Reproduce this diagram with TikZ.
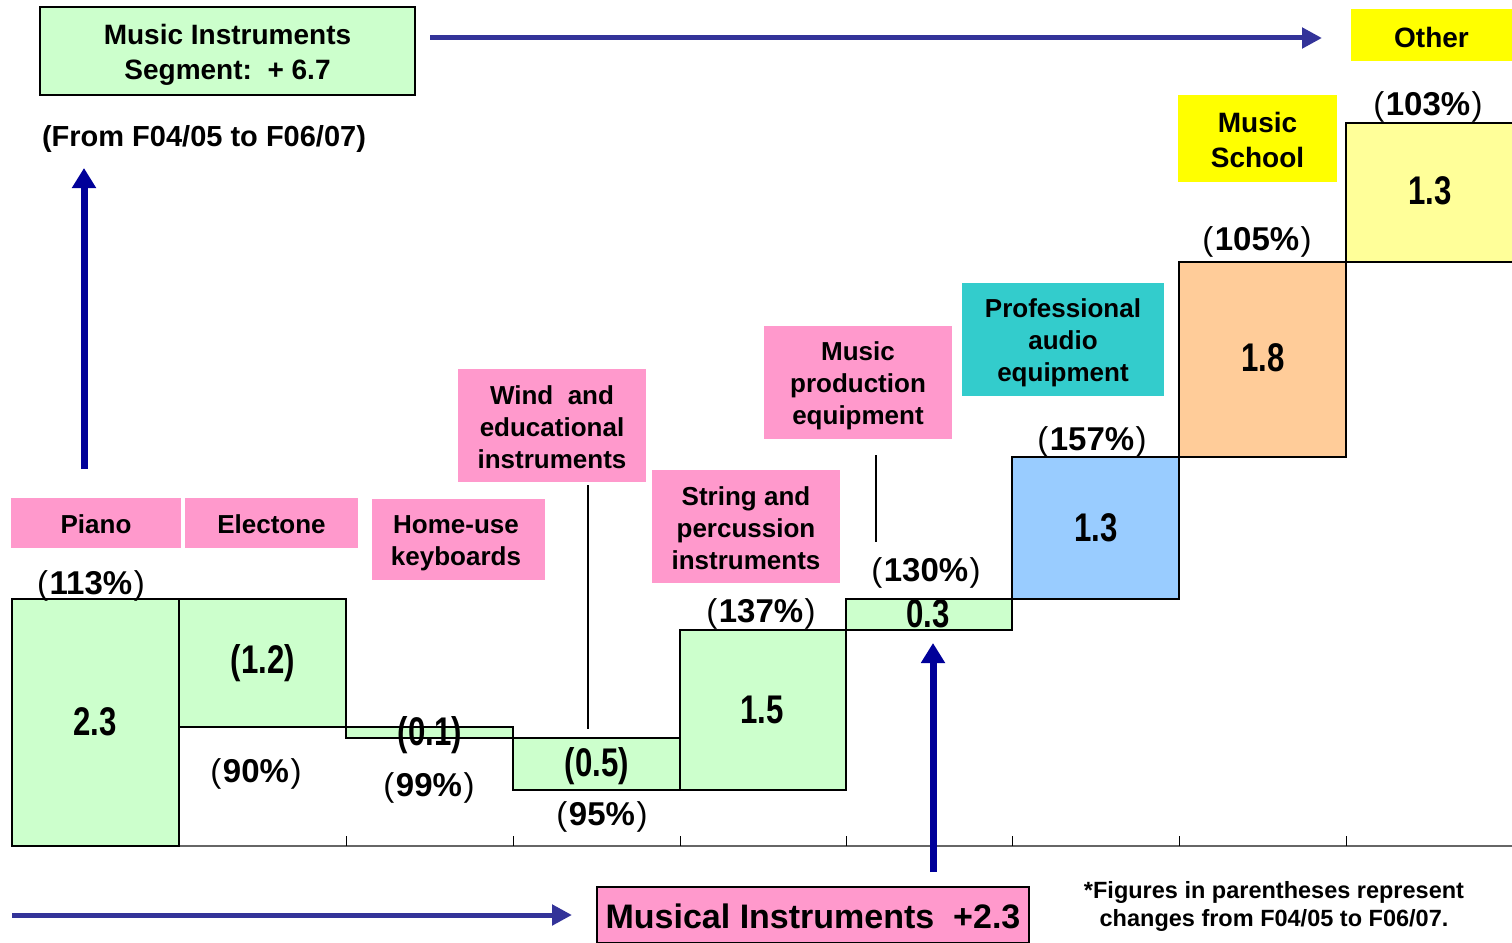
\documentclass[tikz,border=0pt]{standalone}
\usepackage{fontspec}
\setmainfont{Liberation Sans}
\newfontfamily\narrowfont[FakeStretch=0.78]{Liberation Sans}
\usetikzlibrary{arrows.meta}

\definecolor{bargreen}{HTML}{CCFFCC}
\definecolor{barblue}{HTML}{99CCFF}
\definecolor{barorange}{HTML}{FFCC99}
\definecolor{barlight}{HTML}{FFFF99}
\definecolor{tagpink}{HTML}{FF99CC}
\definecolor{tagteal}{HTML}{33CCCC}
\definecolor{tagyellow}{HTML}{FFFF00}
\definecolor{flowblue}{HTML}{333399}
\definecolor{upblue}{HTML}{000099}

\tikzset{
  bar/.style={draw=black, line width=2pt},
  tagbox/.style={fill=tagpink, inner sep=0pt},
  tagtext/.style={inner sep=0pt, align=center,
    font=\fontsize{26}{32}\selectfont\bfseries},
  bigtext/.style={inner sep=0pt, align=center,
    font=\fontsize{28}{35}\selectfont\bfseries},
  value/.style={font=\fontsize{40}{44}\selectfont\narrowfont\bfseries, inner sep=0pt},
  pct/.style={font=\fontsize{33}{36}\selectfont\bfseries, inner sep=0pt},
  leader/.style={draw=black, line width=2pt},
  flow/.style={draw=flowblue, line width=5pt, -{Triangle[length=20pt,width=20pt]}},
  rise/.style={draw=upblue, line width=7pt, -{Triangle[length=20pt,width=23pt]}}
}
\newcommand{\pc}[1]{{\mdseries(}\kern1.5pt#1\kern1.5pt{\mdseries)}}

\begin{document}
\begin{tikzpicture}[x=1pt, y=-1pt]
\useasboundingbox (0,0) rectangle (1512,942);

% axis and ticks
\draw[gray!80!black, line width=2pt] (12,846) -- (1512,846);
\foreach \t in {346,513,680,846,1012,1179,1346}
  \draw[black, line width=1pt] (\t,836) -- (\t,846);

% waterfall bars
\filldraw[bar, fill=bargreen]  (12,599)   rectangle (179,846);
\filldraw[bar, fill=bargreen]  (179,599)  rectangle (346,727);
\filldraw[bar, fill=bargreen]  (346,727)  rectangle (513,738);
\filldraw[bar, fill=bargreen]  (513,738)  rectangle (680,790);
\filldraw[bar, fill=bargreen]  (680,630)  rectangle (846,790);
\filldraw[bar, fill=bargreen]  (846,599)  rectangle (1012,630);
\filldraw[bar, fill=barblue]   (1012,457) rectangle (1179,599);
\filldraw[bar, fill=barorange] (1179,262) rectangle (1346,457);
\filldraw[bar, fill=barlight]  (1346,123) rectangle (1516,262);

% values inside the bars
\node[value] (v1) at (95,722)   {2.3};
\node[value] (v2) at (263,663)  {(1.2)};
\node[value] (v3) at (430,735)  {(0.1)};
\node[value] (v4) at (597,766)  {(0.5)};
\node[value] (v5) at (762,710)  {1.5};
\node[value] (v6) at (928,614)  {0.3};
\node[value] (v7) at (1096,528) {1.3};
\node[value] (v8) at (1263,358) {1.8};
\node[value] (v9) at (1430,191) {1.3};

% year-on-year ratios
\node[pct] (p1) at (91,586)   {\pc{113\%}};
\node[pct] (p2) at (256,774)  {\pc{90\%}};
\node[pct] (p3) at (429,788)  {\pc{99\%}};
\node[pct] (p4) at (602,817)  {\pc{95\%}};
\node[pct] (p5) at (761,614)  {\pc{137\%}};
\node[pct] (p6) at (926,573)  {\pc{130\%}};
\node[pct] (p7) at (1092,442) {\pc{157\%}};
\node[pct] (p8) at (1257,242) {\pc{105\%}};
\node[pct] (p9) at (1428,107) {\pc{103\%}};

% category tags: coloured boxes
\node[tagbox, minimum width=170pt, minimum height=50pt] (piano) at (96,523) {};
\node[tagbox, minimum width=173pt, minimum height=50pt] (electone) at (271.5,523) {};
\node[tagbox, minimum width=173pt, minimum height=81pt] (home) at (458.5,539.5) {};
\node[tagbox, minimum width=188pt, minimum height=113pt] (wind) at (552,425.5) {};
\node[tagbox, minimum width=188pt, minimum height=113pt] (string) at (746,526.5) {};
\node[tagbox, minimum width=188pt, minimum height=113pt] (prod) at (858,382.5) {};
\node[tagbox, fill=tagteal, minimum width=202pt, minimum height=113pt] (pro) at (1063,339.5) {};
\node[tagbox, fill=tagyellow, minimum width=159pt, minimum height=87pt] (school) at (1257.5,138.5) {};
\node[tagbox, fill=tagyellow, minimum width=161pt, minimum height=52pt] (other) at (1431.5,35) {};

% category tags: names
\node[tagtext] (pianoT) at (96,524) {Piano};
\node[tagtext] (electoneT) at (271.5,524) {Electone};
\node[tagtext] (homeT) at (456,543) {Home-use\\keyboards};
\node[tagtext] (windT) at (552,427) {Wind\ \ and\\educational\\instruments};
\node[tagtext] (stringT) at (746,528) {String and\\percussion\\instruments};
\node[tagtext] (prodT) at (858,386) {Music\\production\\equipment};
\node[tagtext] (proT) at (1063,343) {Professional\\audio\\equipment};
\node[bigtext] (schoolT) at (1257.5,140) {Music\\School};
\node[bigtext] (otherT) at (1431.5,37) {Other};

% leader lines from tags to their bars
\coordinate (wtop) at (588,485);
\coordinate (wbot) at (588,729);
\draw[leader] (wtop) -- (wbot);
\coordinate (ptop) at (876,455);
\coordinate (pbot) at (876,542);
\draw[leader] (ptop) -- (pbot);

% segment totals
\node[fill=bargreen, draw=black, line width=1.5pt, inner sep=0pt, minimum width=375pt, minimum height=88pt] (seg) at (227.5,51) {};
\node[bigtext] (segT) at (227.5,55) {Music Instruments\\Segment:\ \ + 6.7};
\node[bigtext, font=\fontsize{29}{35}\selectfont\bfseries] (period) at (204,139) {(From F04/05 to F06/07)};
\node[inner sep=0pt, fill=tagpink, draw=black, line width=1.5pt, minimum width=432pt, minimum height=56pt] (mi) at (813,915) {};
\node[inner sep=0pt, font=\fontsize{34}{40}\selectfont\bfseries] (miT) at (813,916) {Musical Instruments\ \ +2.3};
\node[inner sep=0pt, align=center, font=\fontsize{23.5}{28}\selectfont\bfseries] (note) at (1274,906)
  {*Figures in parentheses represent\\changes from F04/05 to F06/07.};

% flow arrows
\coordinate (ta) at (430,38);
\coordinate (tb) at (1322,38);
\draw[flow] (ta) -- (tb);
\coordinate (ba) at (12,915);
\coordinate (bb) at (572,915);
\draw[flow] (ba) -- (bb);
\coordinate (la) at (84,469);
\coordinate (lb) at (84,168);
\draw[rise] (la) -- (lb);
\coordinate (ma) at (933,872);
\coordinate (mb) at (933,643);
\draw[rise] (ma) -- (mb);
\end{tikzpicture}
\end{document}
